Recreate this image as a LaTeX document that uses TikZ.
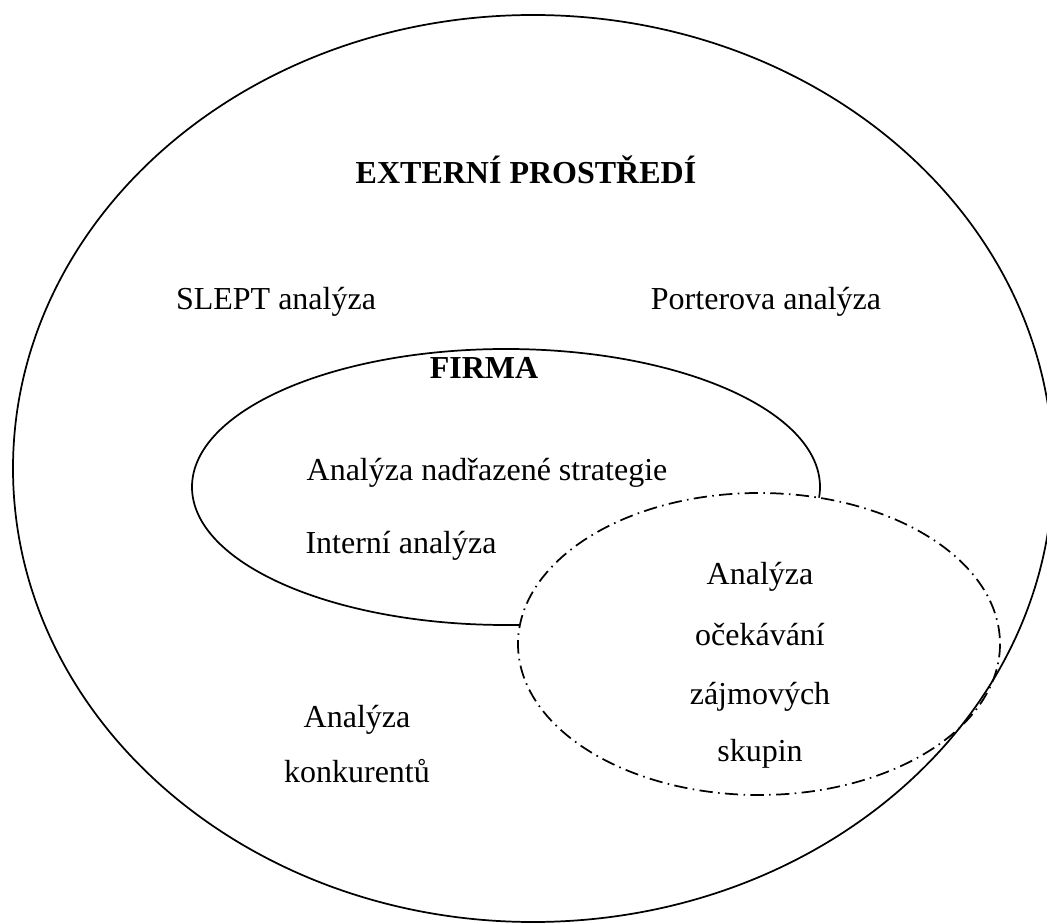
\documentclass[tikz,border=0pt]{standalone}
\usepackage{fontspec}
\setmainfont{Liberation Serif}
\begin{document}
\begin{tikzpicture}[x=0.75pt,y=-0.75pt,
  lbl/.style={font=\fontsize{24}{28}\selectfont, inner sep=0pt, anchor=base},
  bold/.style={lbl, font=\fontsize{24}{28}\selectfont\bfseries},
  outline/.style={line width=1.3pt, draw=black},
  dashdot/.style={line width=1.3pt, draw=black, fill=white, dash pattern=on 10pt off 4pt on 1.2pt off 4pt}]
\useasboundingbox (0,0) rectangle (1047,923);
\draw[outline] (506,487) ellipse [x radius=314, y radius=138];
\draw[dashdot] (759,644) ellipse [x radius=241, y radius=151];
\draw[outline] (533,468.5) ellipse [x radius=520, y radius=453.5];
\node[bold] (ext) at (526,184) {EXTERNÍ PROSTŘEDÍ};
\node[lbl] (slept) at (276,310) {SLEPT analýza};
\node[lbl] (porter) at (766,310) {Porterova analýza};
\node[bold] (firma) at (484,379) {FIRMA};
\node[lbl] (nadr) at (487,481) {Analýza nadřazené strategie};
\node[lbl] (intern) at (401,554) {Interní analýza};
\node[lbl] (oc1) at (760,585) {Analýza};
\node[lbl] (oc2) at (760,646) {očekávání};
\node[lbl] (oc3) at (760,704) {zájmových};
\node[lbl] (oc4) at (760,761) {skupin};
\node[lbl] (kon1) at (357,727) {Analýza};
\node[lbl] (kon2) at (357,782) {konkurentů};
\end{tikzpicture}
\end{document}
